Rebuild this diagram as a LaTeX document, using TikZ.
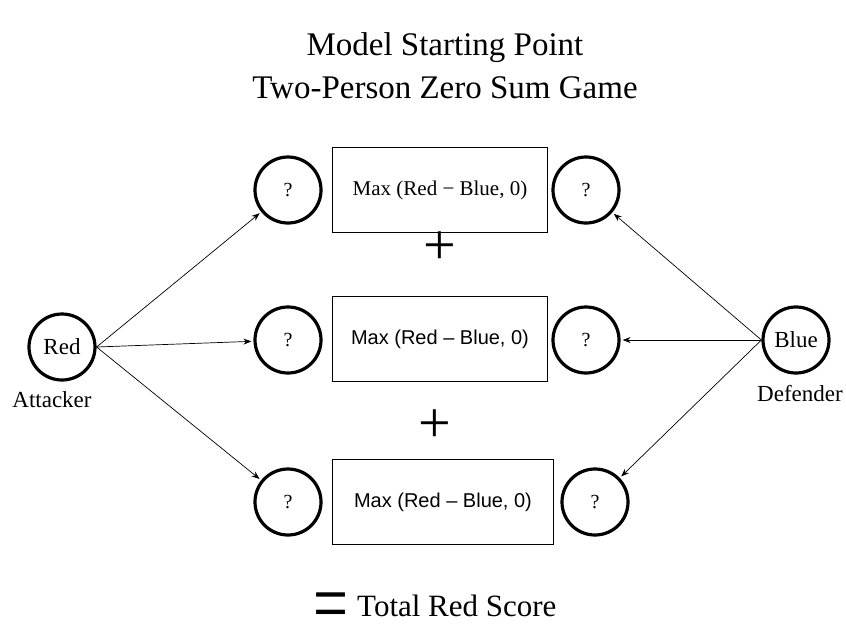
\documentclass[tikz,border=0pt]{standalone}
\usepackage{fontspec}
\setmainfont{Liberation Serif}
\newfontfamily\arialfont{Liberation Sans}
\usetikzlibrary{arrows.meta, positioning}

\begin{document}
\begin{tikzpicture}[
    x=1pt, y=-1pt,
    every node/.style={font=\fontsize{23}{27}\selectfont},
    ring/.style={circle, draw, line width=3.2pt, minimum size=66pt, inner sep=0pt,
                 font=\fontsize{20}{24}\selectfont},
    payoff/.style={rectangle, draw, line width=0.8pt, minimum width=215pt,
                   minimum height=85pt, inner sep=0pt},
    sign/.style={inner sep=0pt, font=\fontsize{58}{58}\selectfont},
    arr/.style={-{Stealth[length=8pt, width=6pt]}, line width=0.7pt, shorten >=2pt}
]
\useasboundingbox (0,0) rectangle (846,627);

% title
\node[align=center, font=\fontsize{33}{43}\selectfont] (title) at (445,66)
    {Model Starting Point\\Two-Person Zero Sum Game};

% the two players
\node[ring, font=\fontsize{23}{27}\selectfont] (red) at (62,347) {Red};
\node (att) at (52,400) {Attacker};
\node[ring, font=\fontsize{23}{27}\selectfont] (blue) at (796,340) {Blue};
\node (def) at (800,394) {Defender};

% payoff rows
\node[payoff, font=\fontsize{21}{25}\selectfont] (row1) at (440,190) {Max (Red − Blue, 0)};
\node[payoff, font=\arialfont\fontsize{20}{24}\selectfont] (row2) at (440,339) {Max (Red – Blue, 0)};
\node[payoff, minimum width=221pt, font=\arialfont\fontsize{20}{24}\selectfont] (row3) at (443,502) {Max (Red – Blue, 0)};

\node[ring] (r1a) at (288,190) {?};
\node[ring] (r1d) at (586,190) {?};
\node[ring] (r2a) at (288,340) {?};
\node[ring] (r2d) at (586,340) {?};
\node[ring] (r3a) at (288,502) {?};
\node[ring] (r3d) at (595,502) {?};

\node[sign] (plus1) at (440,248) {+};
\node[sign] (plus2) at (435,426) {+};

% total
\node[anchor=base west, inner sep=0pt, font=\fontsize{31}{31}\selectfont] (total) at (357,616) {Total Red Score};
\node[anchor=base east, inner sep=0pt, font=\fontsize{31}{31}\selectfont] (eq) at (349,616)
    {\raisebox{-16pt}[0pt][0pt]{\scalebox{2}[2.8]{=}}};

% moves
\draw[arr] (red.east) -- (r1a);
\draw[arr] (red.east) -- (r2a);
\draw[arr] (red.east) -- (r3a);
\draw[arr] (blue.west) -- (r1d);
\draw[arr] (blue.west) -- (r2d);
\draw[arr] (blue.west) -- (r3d);
\end{tikzpicture}
\end{document}
